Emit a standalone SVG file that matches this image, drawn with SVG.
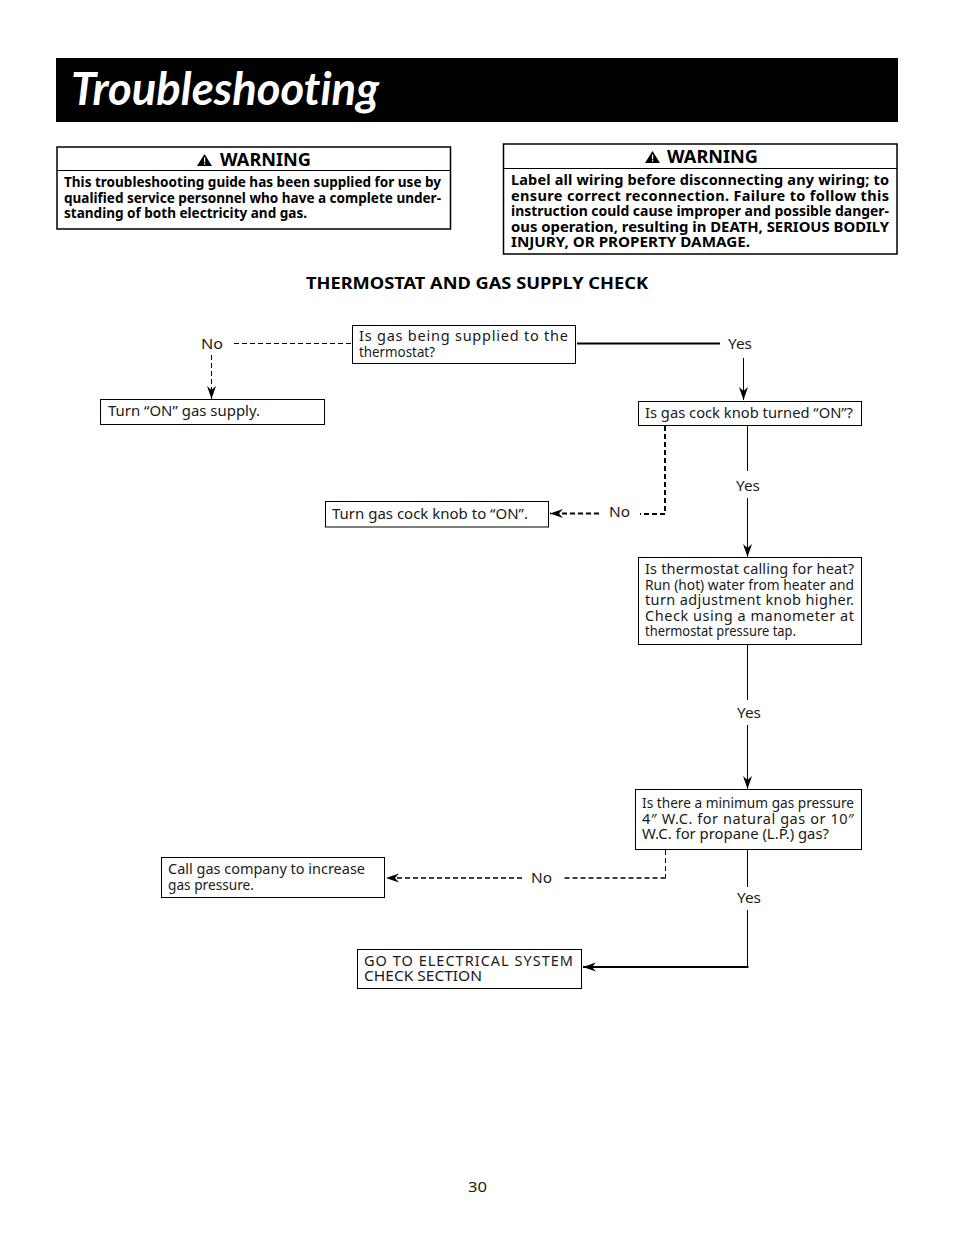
<svg xmlns="http://www.w3.org/2000/svg" width="954" height="1235" viewBox="0 0 954 1235">
<style>
text{font-family:"Noto Sans","Open Sans","DejaVu Sans",sans-serif;fill:#1a1a1a}
.b{font-size:14.5px}
.l{font-size:14.5px}
.wb{font-size:14.5px;font-weight:700;fill:#000}
.wh{font-size:18px;font-weight:700;fill:#000}
.box{fill:#fff;stroke:#000;stroke-width:1}
.wbox{fill:#fff;stroke:#000;stroke-width:1.5}
.c{fill:none;stroke:#000;stroke-width:1}
.t{stroke-width:2}
.m{stroke-width:1.5}
.d{stroke-dasharray:5 3}
.dt{stroke-width:2;stroke-dasharray:5 3}
</style>
<defs>
<marker id="ah" markerUnits="userSpaceOnUse" markerWidth="14" markerHeight="10" refX="13" refY="5" orient="auto">
<path d="M0 0.5L13 5L0 9.5L4 5Z" fill="#000"/>
</marker>
<symbol id="tri" viewBox="0 0 15 12">
<path d="M7.5 0L15 12H0Z" fill="#000"/>
<rect x="7" y="3.5" width="1.2" height="4.8" fill="#fff"/>
<rect x="7" y="9.2" width="1.2" height="1.4" fill="#fff"/>
</symbol>
</defs>
<rect id="title-bar" x="56" y="58" width="842" height="64" fill="#000"/>
<text id="title" x="71" y="105" font-size="46" font-weight="700" font-style="italic" textLength="308" lengthAdjust="spacingAndGlyphs" style="fill:#fff;font-family:'Lato','Open Sans',sans-serif;font-variant-ligatures:none">Troubleshooting</text>

<g id="warning-1">
<rect class="wbox" x="57" y="147" width="393.5" height="82"/>
<line x1="57" y1="170.5" x2="450.5" y2="170.5" stroke="#000" stroke-width="1.2"/>
<use href="#tri" x="197" y="154" width="15" height="12"/>
<text class="wh" x="220" y="166" textLength="91" lengthAdjust="spacingAndGlyphs">WARNING</text>
<text class="wb" x="64" y="187" textLength="377" lengthAdjust="spacingAndGlyphs">This troubleshooting guide has been supplied for use by</text>
<text class="wb" x="64" y="203" textLength="377" lengthAdjust="spacingAndGlyphs">qualified service personnel who have a complete under-</text>
<text class="wb" x="64" y="218" textLength="243" lengthAdjust="spacingAndGlyphs">standing of both electricity and gas.</text>
</g>

<g id="warning-2">
<rect class="wbox" x="503.5" y="144" width="393.5" height="110"/>
<line x1="503.5" y1="168.5" x2="897" y2="168.5" stroke="#000" stroke-width="1.2"/>
<use href="#tri" x="645" y="151" width="15" height="12"/>
<text class="wh" x="667" y="163" textLength="91" lengthAdjust="spacingAndGlyphs">WARNING</text>
<text class="wb" x="511" y="185" textLength="378" lengthAdjust="spacing">Label all wiring before disconnecting any wiring; to</text>
<text class="wb" x="511" y="201" textLength="378" lengthAdjust="spacing">ensure correct reconnection. Failure to follow this</text>
<text class="wb" x="511" y="216" textLength="378" lengthAdjust="spacingAndGlyphs">instruction could cause improper and possible danger-</text>
<text class="wb" x="511" y="232" textLength="378" lengthAdjust="spacingAndGlyphs">ous operation, resulting in DEATH, SERIOUS BODILY</text>
<text class="wb" x="511" y="247" textLength="239" lengthAdjust="spacingAndGlyphs">INJURY, OR PROPERTY DAMAGE.</text>
</g>

<text id="heading" x="306" y="289" font-size="16.5" font-weight="700" textLength="342" lengthAdjust="spacingAndGlyphs" style="fill:#000">THERMOSTAT AND GAS SUPPLY CHECK</text>

<g id="connectors">
<path class="c d" d="M351 343.5H231"/>
<path class="c d" d="M211.5 355V399" marker-end="url(#ah)"/>
<path class="c t" d="M577 343.5H720"/>
<path class="c" d="M743.5 358V400" marker-end="url(#ah)"/>
<path class="c dt" d="M665 426V514H640"/>
<path class="c dt" d="M599 513.5H550" marker-end="url(#ah)"/>
<path class="c" d="M747.5 426V471"/>
<path class="c" d="M747.5 498V557" marker-end="url(#ah)"/>
<path class="c" d="M747.5 645V700"/>
<path class="c" d="M747.5 725V789" marker-end="url(#ah)"/>
<path class="c d" d="M665.5 850V878"/>
<path class="c m d" d="M665.5 878H562"/>
<path class="c m d" d="M522 878H386" marker-end="url(#ah)"/>
<path class="c" d="M747.5 850V887"/>
<path class="c" d="M747.5 910V967"/>
<path class="c t" d="M748.5 967H583" marker-end="url(#ah)"/>
<text class="l" x="201" y="349" textLength="22" lengthAdjust="spacingAndGlyphs">No</text>
<text class="l" x="728" y="349" textLength="24" lengthAdjust="spacingAndGlyphs">Yes</text>
<text class="l" x="609" y="517" textLength="21" lengthAdjust="spacingAndGlyphs">No</text>
<text class="l" x="736" y="491" textLength="24" lengthAdjust="spacingAndGlyphs">Yes</text>
<text class="l" x="737" y="718" textLength="24" lengthAdjust="spacingAndGlyphs">Yes</text>
<text class="l" x="531" y="883" textLength="21" lengthAdjust="spacingAndGlyphs">No</text>
<text class="l" x="737" y="903" textLength="24" lengthAdjust="spacingAndGlyphs">Yes</text>
</g>

<g id="node-gas-supplied">
<rect class="box" x="352.5" y="325.5" width="223" height="38"/>
<text class="b" x="359" y="341" textLength="209" lengthAdjust="spacing">Is gas being supplied to the</text>
<text class="b" x="359" y="357" textLength="76" lengthAdjust="spacingAndGlyphs">thermostat?</text>
</g>
<g id="node-turn-on-gas">
<rect class="box" x="100.5" y="399.5" width="224" height="25"/>
<text class="b" x="108" y="416" textLength="152" lengthAdjust="spacingAndGlyphs">Turn “ON” gas supply.</text>
</g>
<g id="node-gas-cock">
<rect class="box" x="638.5" y="401.5" width="223" height="24"/>
<text class="b" x="645" y="418" textLength="208" lengthAdjust="spacingAndGlyphs">Is gas cock knob turned “ON”?</text>
</g>
<g id="node-turn-knob">
<rect class="box" x="325.5" y="501.5" width="223" height="25.5"/>
<text class="b" x="332" y="519" textLength="196" lengthAdjust="spacingAndGlyphs">Turn gas cock knob to “ON”.</text>
</g>
<g id="node-thermostat-heat">
<rect class="box" x="638.5" y="557.5" width="223" height="87"/>
<text class="b" x="645" y="574" textLength="209" lengthAdjust="spacing">Is thermostat calling for heat?</text>
<text class="b" x="645" y="590" textLength="209" lengthAdjust="spacingAndGlyphs">Run (hot) water from heater and</text>
<text class="b" x="645" y="605" textLength="209" lengthAdjust="spacing">turn adjustment knob higher.</text>
<text class="b" x="645" y="621" textLength="209" lengthAdjust="spacing">Check using a manometer at</text>
<text class="b" x="645" y="636" textLength="151" lengthAdjust="spacingAndGlyphs">thermostat pressure tap.</text>
</g>
<g id="node-min-pressure">
<rect class="box" x="635.5" y="789.5" width="226" height="60"/>
<text class="b" x="642" y="808" textLength="212" lengthAdjust="spacingAndGlyphs">Is there a minimum gas pressure</text>
<text class="b" x="642" y="824" textLength="212" lengthAdjust="spacing">4″ W.C. for natural gas or 10″</text>
<text class="b" x="642" y="839" textLength="187" lengthAdjust="spacingAndGlyphs">W.C. for propane (L.P.) gas?</text>
</g>
<g id="node-call-company">
<rect class="box" x="161.5" y="857.5" width="223" height="40"/>
<text class="b" x="168" y="874" textLength="197" lengthAdjust="spacingAndGlyphs">Call gas company to increase</text>
<text class="b" x="168" y="890" textLength="86" lengthAdjust="spacingAndGlyphs">gas pressure.</text>
</g>
<g id="node-electrical">
<rect class="box" x="357.5" y="949.5" width="224" height="39"/>
<text class="b" x="364" y="966" textLength="209" lengthAdjust="spacing">GO TO ELECTRICAL SYSTEM</text>
<text class="b" x="364" y="981" textLength="118" lengthAdjust="spacingAndGlyphs">CHECK SECTION</text>
</g>

<text id="page-number" x="468" y="1192" font-size="14.5" textLength="19" lengthAdjust="spacingAndGlyphs">30</text>
</svg>
